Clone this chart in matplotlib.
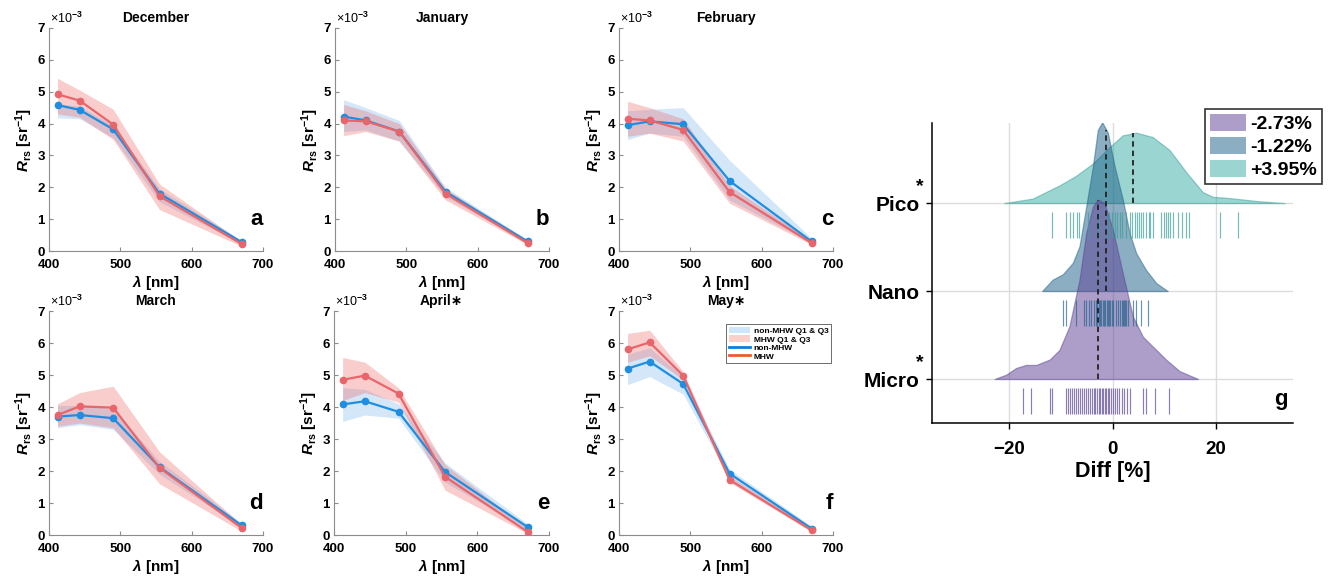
import matplotlib.pyplot as plt
from matplotlib.patches import Patch
from matplotlib.lines import Line2D
import numpy as np

plt.rcParams['font.family'] = ['Liberation Sans', 'DejaVu Sans']
plt.rcParams['font.weight'] = 'bold'
plt.rcParams['axes.labelweight'] = 'bold'
plt.rcParams['mathtext.fontset'] = 'custom'
plt.rcParams['mathtext.rm'] = 'Liberation Sans'
plt.rcParams['mathtext.it'] = 'Liberation Sans:italic:bold'
plt.rcParams['mathtext.bf'] = 'Liberation Sans:bold'

# ---- spectra (Rrs in units of 1e-3 sr^-1), one row per month ----
wavelength = [412, 443, 490, 555, 670]
months = ['December', 'January', 'February', 'March', 'April\u2217', 'May\u2217']
panel_letters = ['a', 'b', 'c', 'd', 'e', 'f']

nonmhw_med = [
    [4.58, 4.43, 3.82, 1.80, 0.28],
    [4.22, 4.10, 3.75, 1.86, 0.30],
    [3.95, 4.07, 3.98, 2.20, 0.30],
    [3.70, 3.75, 3.65, 2.12, 0.30],
    [4.08, 4.18, 3.85, 1.97, 0.25],
    [5.20, 5.42, 4.72, 1.92, 0.20],
]
nonmhw_q1 = [
    [4.18, 4.15, 3.55, 1.55, 0.22],
    [3.75, 3.80, 3.45, 1.70, 0.25],
    [3.50, 3.70, 3.60, 1.60, 0.25],
    [3.35, 3.45, 3.30, 1.90, 0.25],
    [3.55, 3.75, 3.65, 1.65, 0.18],
    [4.70, 4.95, 4.40, 1.75, 0.12],
]
nonmhw_q3 = [
    [4.62, 4.55, 3.95, 1.95, 0.33],
    [4.75, 4.50, 4.10, 2.00, 0.35],
    [4.40, 4.45, 4.50, 2.85, 0.40],
    [4.05, 4.05, 3.95, 2.30, 0.38],
    [4.60, 4.55, 4.10, 2.25, 0.35],
    [5.65, 5.85, 4.95, 2.05, 0.28],
]
mhw_med = [
    [4.92, 4.72, 3.97, 1.72, 0.22],
    [4.10, 4.07, 3.75, 1.80, 0.25],
    [4.15, 4.10, 3.80, 1.85, 0.25],
    [3.75, 4.02, 3.98, 2.10, 0.22],
    [4.85, 4.98, 4.42, 1.82, 0.10],
    [5.80, 6.02, 4.98, 1.72, 0.15],
]
mhw_q1 = [
    [4.30, 4.20, 3.50, 1.30, 0.15],
    [3.62, 3.75, 3.45, 1.60, 0.20],
    [3.60, 3.70, 3.45, 1.50, 0.20],
    [3.40, 3.50, 3.35, 1.60, 0.12],
    [4.20, 4.45, 4.15, 1.40, 0.05],
    [5.40, 5.60, 4.85, 1.65, 0.10],
]
mhw_q3 = [
    [5.42, 5.05, 4.45, 2.10, 0.30],
    [4.60, 4.40, 4.00, 1.95, 0.32],
    [4.70, 4.50, 4.15, 2.05, 0.32],
    [4.10, 4.45, 4.65, 2.60, 0.32],
    [5.55, 5.40, 4.60, 2.20, 0.20],
    [6.30, 6.40, 5.10, 1.85, 0.20],
]

# ---- panel g: difference distributions ----
groups = ['Micro', 'Nano', 'Pico']
group_pos = [1, 2, 3]
starred = [True, False, True]
medians = [-2.73, -1.22, 3.95]
legend_labels = ['-2.73%', '-1.22%', '+3.95%']

micro_x = [-22.9, -20.6, -18.7, -16.8, -14.8, -12.2, -10.3, -8.35, -6.4, -5.1, -3.8,
           -2.85, -1.55, 0.06, 2.0, 3.95, 5.9, 7.8, 10.4, 13.0, 16.6]
micro_h = [0, 0.05, 0.125, 0.16, 0.16, 0.22, 0.33, 0.6, 1.13, 1.66, 1.96,
           2.04, 2.0, 1.70, 1.2, 0.71, 0.48, 0.37, 0.22, 0.09, 0]
nano_x = [-13.65, -11.6, -9.65, -7.7, -6.4, -5.1, -3.8, -2.85, -2.0, -0.9, 0.4,
          2.0, 3.3, 4.6, 6.5, 8.5, 10.7]
nano_h = [0, 0.13, 0.19, 0.32, 0.51, 0.96, 1.42, 1.83, 1.92, 1.80, 1.42,
          1.04, 0.66, 0.43, 0.24, 0.09, 0]
pico_x = [-21, -15.5, -10.3, -7.05, -3.8, -0.5, 2.0, 4.6, 7.8, 11.1, 14.3,
          17.5, 19.5, 22.1, 25.3, 28.5, 33.4]
pico_h = [0, 0.05, 0.2, 0.31, 0.45, 0.64, 0.77, 0.80, 0.75, 0.6, 0.35,
          0.125, 0.07, 0.06, 0.04, 0.02, 0]

micro_rug = [-17.3, -15.8, -12.1, -11.7, -9.0, -8.7, -8.3, -7.9, -7.5, -7.1, -6.7, -6.3,
             -5.9, -5.5, -5.1, -4.8, -4.4, -4.0, -3.6, -3.3, -3.0, -2.7, -2.4, -2.1,
             -1.8, -1.5, -1.2, -0.9, -0.6, -0.3, 0.0, 0.4, 0.8, 1.2, 1.9, 2.3, 2.8,
             3.3, 5.9, 6.5, 8.2, 10.9]
nano_rug = [-9.6, -9.1, -7.1, -5.6, -5.1, -4.6, -4.1, -3.5, -3.2, -3.0, -2.7, -2.4,
            -2.2, -1.9, -1.6, -1.4, -1.1, -0.9, -0.6, -0.4, -0.1, 0.1, 0.6, 1.0,
            1.5, 1.9, 2.1, 2.3, 2.5, 2.7, 3.0, 4.0, 4.6, 5.6, 6.9]
pico_rug = [-11.8, -9.0, -8.2, -7.6, -6.9, -6.4, -4.8, -2.7, -1.2, -0.6, -0.1, 0.4,
            0.8, 1.4, 1.9, 2.7, 3.3, 3.8, 4.3, 4.7, 5.1, 5.6, 6.0, 6.5, 7.0, 7.3,
            7.8, 9.5, 9.9, 10.3, 10.7, 11.1, 11.7, 12.7, 13.5, 14.3, 14.8, 20.9, 24.3]

fill_cols = ['#5b3f95', '#1b5e86', '#38ada4']
edge_cols = ['#5b4596', '#24658f', '#3a9f98']

# ---------------------------------------------------------------
fig = plt.figure(figsize=(13.29, 5.78), dpi=100)
W, H = 1329, 578

def px_axes(x0, y0, x1, y1):
    return fig.add_axes([x0 / W, 1 - y1 / H, (x1 - x0) / W, (y1 - y0) / H])

boxes = [(49, 28, 263, 251), (335, 28, 549, 251), (619, 28, 833, 251),
         (49, 311, 263, 535), (334, 311, 549, 535), (619, 311, 833, 535)]

blue_band = (80 / 255, 160 / 255, 235 / 255)
red_band = (240 / 255, 90 / 255, 90 / 255)
blue_line = '#1f8ee0'
red_line = '#e8666b'
axis_gray = '#8c8c8c'

for i, box in enumerate(boxes):
    ax = px_axes(*box)
    ax.fill_between(wavelength, nonmhw_q1[i], nonmhw_q3[i], color=blue_band, alpha=0.25, lw=0)
    ax.fill_between(wavelength, mhw_q1[i], mhw_q3[i], color=red_band, alpha=0.3, lw=0)
    ax.plot(wavelength, nonmhw_med[i], '-o', color=blue_line, lw=1.6, ms=4.5)
    ax.plot(wavelength, mhw_med[i], '-o', color=red_line, lw=1.6, ms=4.5)
    ax.set_xlim(400, 700)
    ax.set_ylim(0, 7)
    ax.set_xticks([400, 500, 600, 700])
    ax.set_yticks(range(8))
    for s in ['top', 'right']:
        ax.spines[s].set_visible(False)
    for s in ['left', 'bottom']:
        ax.spines[s].set_color(axis_gray)
        ax.spines[s].set_linewidth(0.8)
    ax.tick_params(direction='in', length=3, color=axis_gray, labelsize=9.5)
    ax.tick_params(axis='x', pad=6)
    ax.tick_params(axis='y', pad=3)
    ax.set_xlabel(r'$\lambda$ [nm]', fontsize=11, labelpad=1)
    ax.set_ylabel(r'$R_{\mathbf{rs}}$ [sr$^{\mathbf{-1}}$]', fontsize=11, labelpad=2)
    ax.set_title(months[i], fontsize=10, fontweight='bold', pad=4)
    ax.text(0.005, 1.01, '\u00d710$^{-3}$', transform=ax.transAxes, fontsize=9,
            fontweight='normal', ha='left', va='bottom')
    ax.text(1.0, 0.115, panel_letters[i], transform=ax.transAxes, fontsize=16,
            fontweight='bold', ha='right', va='baseline')
    if i == 5:
        handles = [Patch(facecolor='#cde6fb', edgecolor='none'),
                   Patch(facecolor='#fbd0c8', edgecolor='none'),
                   Line2D([], [], color='#0f7fd6', lw=2),
                   Line2D([], [], color='#ee5a2b', lw=2)]
        leg = ax.legend(handles, ['non-MHW Q1 & Q3', 'MHW Q1 & Q3', 'non-MHW', 'MHW'],
                        loc='upper right', bbox_to_anchor=(0.99, 0.94), fontsize=6,
                        handlelength=2.6, handleheight=0.8, labelspacing=0.05,
                        borderpad=0.3, handletextpad=0.4, borderaxespad=0,
                        fancybox=False, framealpha=1)
        leg.get_frame().set_edgecolor('#555555')
        leg.get_frame().set_linewidth(0.6)

# ---- panel g ----
ax = px_axes(932, 123, 1293, 423)
curves_x = [micro_x, nano_x, pico_x]
curves_h = [micro_h, nano_h, pico_h]
rugs = [micro_rug, nano_rug, pico_rug]
ax.set_axisbelow(True)
ax.grid(True, color='#dcdcdc', lw=1)
for k in [2, 1, 0]:
    base = group_pos[k]
    xs = np.array(curves_x[k])
    hs = np.array(curves_h[k])
    ax.fill_between(xs, base, base + hs, facecolor=fill_cols[k], alpha=0.5,
                    edgecolor=edge_cols[k], lw=0.9)
    ax.vlines(rugs[k], base - 0.4, base - 0.1, colors=edge_cols[k], alpha=0.7, lw=0.85)
    top = np.interp(medians[k], xs, hs)
    ax.plot([medians[k], medians[k]], [base, base + top], color='#222222',
            lw=1.3, dashes=(3, 2.2))

ax.set_xlim(-35, 35)
ax.set_ylim(0.5, 3.91)
ax.set_xticks([-20, 0, 20])
ax.set_yticks(group_pos)
ax.set_yticklabels(groups)
ax.tick_params(axis='both', direction='out', length=4, width=1, labelsize=13.5, pad=5)
ax.tick_params(axis='y', labelsize=15)
ax.tick_params(axis='x', pad=9)
for s in ['top', 'right']:
    ax.spines[s].set_visible(False)
for s in ['left', 'bottom']:
    ax.spines[s].set_linewidth(1.1)
ax.set_xlabel('Diff [%]', fontsize=15.5, labelpad=2)
for k in range(3):
    if starred[k]:
        ax.text(-0.033, group_pos[k] + 0.19, '*', transform=ax.get_yaxis_transform(),
                fontsize=14, fontweight='bold', ha='center', va='center')
ax.text(0.985, 0.06, 'g', transform=ax.transAxes, fontsize=16, fontweight='bold',
        ha='right', va='baseline')

handles = [Patch(facecolor=c, alpha=0.5, edgecolor='none') for c in fill_cols]
leg = fig.legend(handles, legend_labels, loc='upper right',
                 bbox_to_anchor=(1322 / W, 1 - 109 / H), fontsize=14,
                 handlelength=1.9, handleheight=0.95, labelspacing=0.2,
                 borderpad=0.25, handletextpad=0.2, borderaxespad=0,
                 fancybox=False, framealpha=1)
leg.get_frame().set_edgecolor('#333333')
leg.get_frame().set_linewidth(1.2)

fig.savefig('out.png', dpi=100)
